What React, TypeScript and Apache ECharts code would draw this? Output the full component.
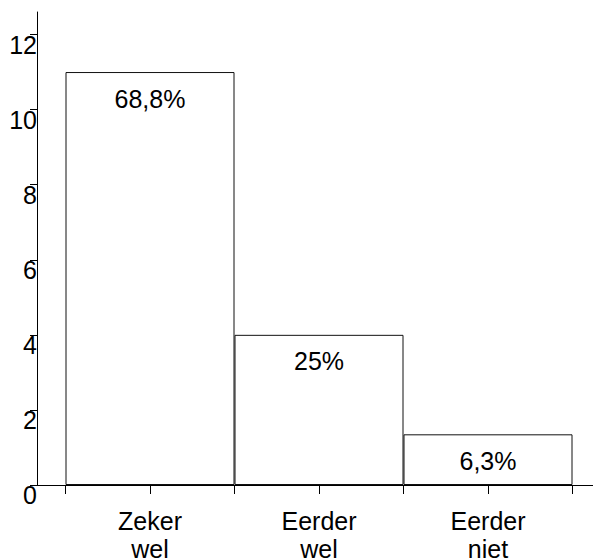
import React, { useEffect, useRef } from "react";
import * as echarts from "echarts";

const categories = ["Zeker\nwel", "Eerder\nwel", "Eerder\nniet"];
const values = [11, 4, 1.35];
const barLabels = ["68,8%", "25%", "6,3%"];
const yTicks = { min: 0, max: 12, interval: 2 };

const FONT = "Liberation Sans, Arial, sans-serif";

export default function App() {
  const ref = useRef<HTMLDivElement>(null);
  useEffect(() => {
    if (!ref.current) return;
    const chart = echarts.init(ref.current, null, { renderer: "svg" });
    const plotGrid = { left: 65.5, right: 20.5, top: 34.5, bottom: 75, outerBoundsMode: "none", containLabel: false };
    chart.setOption({
      animation: false,
      backgroundColor: "#fff",
      grid: [
        { left: 37, right: 0, top: 12, bottom: 75, outerBoundsMode: "none", containLabel: false },
        plotGrid,
        { ...plotGrid },
      ],
      xAxis: [
        {
          type: "value",
          gridIndex: 0,
          min: 0,
          max: 1,
          axisLine: { show: true, onZero: false, lineStyle: { color: "#000", width: 1 } },
          axisTick: { show: false },
          axisLabel: { show: false },
          splitLine: { show: false },
        },
        {
          type: "category",
          gridIndex: 1,
          position: "bottom",
          data: categories,
          axisLine: { show: false, onZero: false },
          axisTick: { show: true, length: 9, lineStyle: { color: "#000" } },
          axisLabel: {
            color: "#000",
            fontSize: 25,
            lineHeight: 28,
            fontFamily: FONT,
            margin: 22,
            verticalAlign: "top",
          },
        },
        {
          type: "category",
          gridIndex: 2,
          position: "bottom",
          data: categories,
          axisLine: { show: false, onZero: false },
          axisTick: { show: true, alignWithLabel: true, length: 9, lineStyle: { color: "#000" } },
          axisLabel: { show: false },
        },
      ],
      yAxis: [
        {
          type: "value",
          gridIndex: 0,
          min: 0,
          max: 1,
          axisLine: { show: true, lineStyle: { color: "#000", width: 1 } },
          axisTick: { show: false },
          axisLabel: { show: false },
          splitLine: { show: false },
        },
        {
          type: "value",
          gridIndex: 1,
          min: yTicks.min,
          max: yTicks.max,
          interval: yTicks.interval,
          offset: 28.5,
          axisLine: { show: false },
          axisTick: { show: true, length: 7, lineStyle: { color: "#000" } },
          axisLabel: {
            color: "#000",
            fontSize: 25,
            fontFamily: FONT,
            margin: 0,
            verticalAlign: "top",
            lineHeight: 20,
          },
          splitLine: { show: false },
        },
        {
          type: "value",
          gridIndex: 2,
          show: false,
          min: yTicks.min,
          max: yTicks.max,
        },
      ],
      series: [
        {
          type: "bar",
          xAxisIndex: 1,
          yAxisIndex: 1,
          data: values,
          barCategoryGap: "0%",
          itemStyle: { color: "#fff", borderColor: "#111", borderWidth: 1 },
          label: {
            show: true,
            position: "insideTop",
            distance: 14,
            color: "#000",
            fontSize: 25,
            lineHeight: 25,
            fontFamily: FONT,
            formatter: (p: any) => barLabels[p.dataIndex],
          },
        },
      ],
    });
    return () => chart.dispose();
  }, []);
  return <div ref={ref} style={{ width: 593, height: 560, position: "absolute", left: 0, top: 0 }} />;
}
